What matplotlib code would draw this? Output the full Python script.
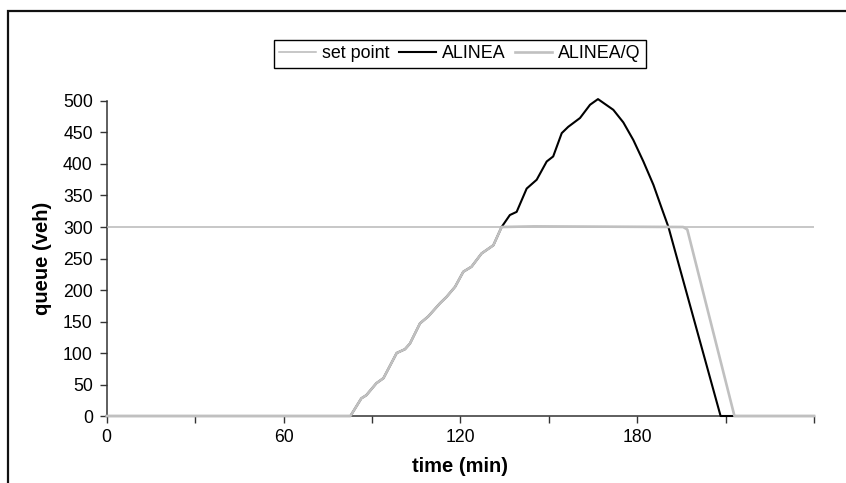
import matplotlib

matplotlib.use("Agg")
import matplotlib.pyplot as plt
from matplotlib.patches import Rectangle

plt.rcParams["font.family"] = ["Liberation Sans", "DejaVu Sans"]

# Queue ramp shared by both strategies until the queue reaches the set point.
RAMP_T = [0, 82.7, 86.4, 88.1, 91.5, 93.9, 98.4, 101.2, 102.9, 106.3, 109.1,
          113.1, 115.3, 118.2, 121.0, 123.8, 127.2, 131.2, 134.0]
RAMP_Q = [0, 0, 28, 33, 52, 60, 100, 106, 115, 147, 158,
          179, 189, 205, 229, 237, 258, 271, 300]

# ALINEA keeps growing past the set point, then empties.
ALINEA_T = [136.8, 139.1, 142.5, 145.9, 149.3, 151.5, 154.4, 156.6, 160.6,
            164.0, 166.7, 171.9, 175.3, 178.7, 182.1, 185.5, 188.3, 190.6,
            208.3, 240]
ALINEA_Q = [319, 324, 361, 375, 404, 412, 449, 459, 473,
            494, 503, 486, 466, 438, 404, 367, 330, 300,
            0, 0]

# ALINEA/Q holds the queue at the set point, then empties.
ALINEAQ_T = [145.0, 195.6, 197.0, 213.0, 240]
ALINEAQ_Q = [301, 300, 296, 0, 0]

SET_POINT = 300
X_TICKS = [0, 30, 60, 90, 120, 150, 180, 210, 240]
X_LABELS = ["0", "", "60", "", "120", "", "180", "", ""]
Y_TICKS = list(range(0, 501, 50))

fig = plt.figure(figsize=(8.46, 4.83), dpi=100)
ax = fig.add_axes([0.1261, 0.1387, 0.9622 - 0.1261, 0.7909 - 0.1387])

# outer frame of the chart area, cut off at right and bottom
fig.patches.append(Rectangle((8 / 846, -0.2), 1.2, 1.2 - 11 / 483,
                             transform=fig.transFigure, fill=False,
                             edgecolor="#111111", linewidth=1.6))

line_col = "#333333"
ax.plot([0, 240], [SET_POINT, SET_POINT], color="#b8b8b8", lw=1.1,
        label="set point", zorder=2)
ax.plot(RAMP_T + ALINEA_T, RAMP_Q + ALINEA_Q, color="black", lw=1.5,
        label="ALINEA", zorder=3, solid_joinstyle="round", clip_on=False)
ax.plot(RAMP_T + ALINEAQ_T, RAMP_Q + ALINEAQ_Q, color="#c0c0c0", lw=1.9,
        label="ALINEA/Q", zorder=4, solid_joinstyle="round", clip_on=False)

ax.set_xlim(0, 240)
ax.set_ylim(0, 500)
ax.set_xticks(X_TICKS, labels=X_LABELS)
ax.set_yticks(Y_TICKS)
ax.tick_params(direction="out", length=5, width=1, color=line_col,
               labelsize=12.7, colors="black")
ax.tick_params(axis="y", pad=5)
ax.tick_params(axis="x", pad=4)
for side in ("top", "right"):
    ax.spines[side].set_visible(False)
for side in ("left", "bottom"):
    ax.spines[side].set_color(line_col)
    ax.spines[side].set_linewidth(1.1)
    ax.spines[side].set_zorder(1)

ax.set_xlabel("time (min)", fontsize=14.5, fontweight="bold", labelpad=8)
ax.set_ylabel("queue (veh)", fontsize=14.5, fontweight="bold", labelpad=8)

leg = ax.legend(loc="center", bbox_to_anchor=(460 / 846, 1 - 54 / 483),
                bbox_transform=fig.transFigure, ncol=3, fontsize=12.9,
                frameon=True, fancybox=False, framealpha=1, edgecolor="black",
                handlelength=2.05, handletextpad=0.33, columnspacing=0.55,
                borderpad=0.3, borderaxespad=0)
leg.get_frame().set_linewidth(1.0)

fig.savefig("out.png", dpi=100)
